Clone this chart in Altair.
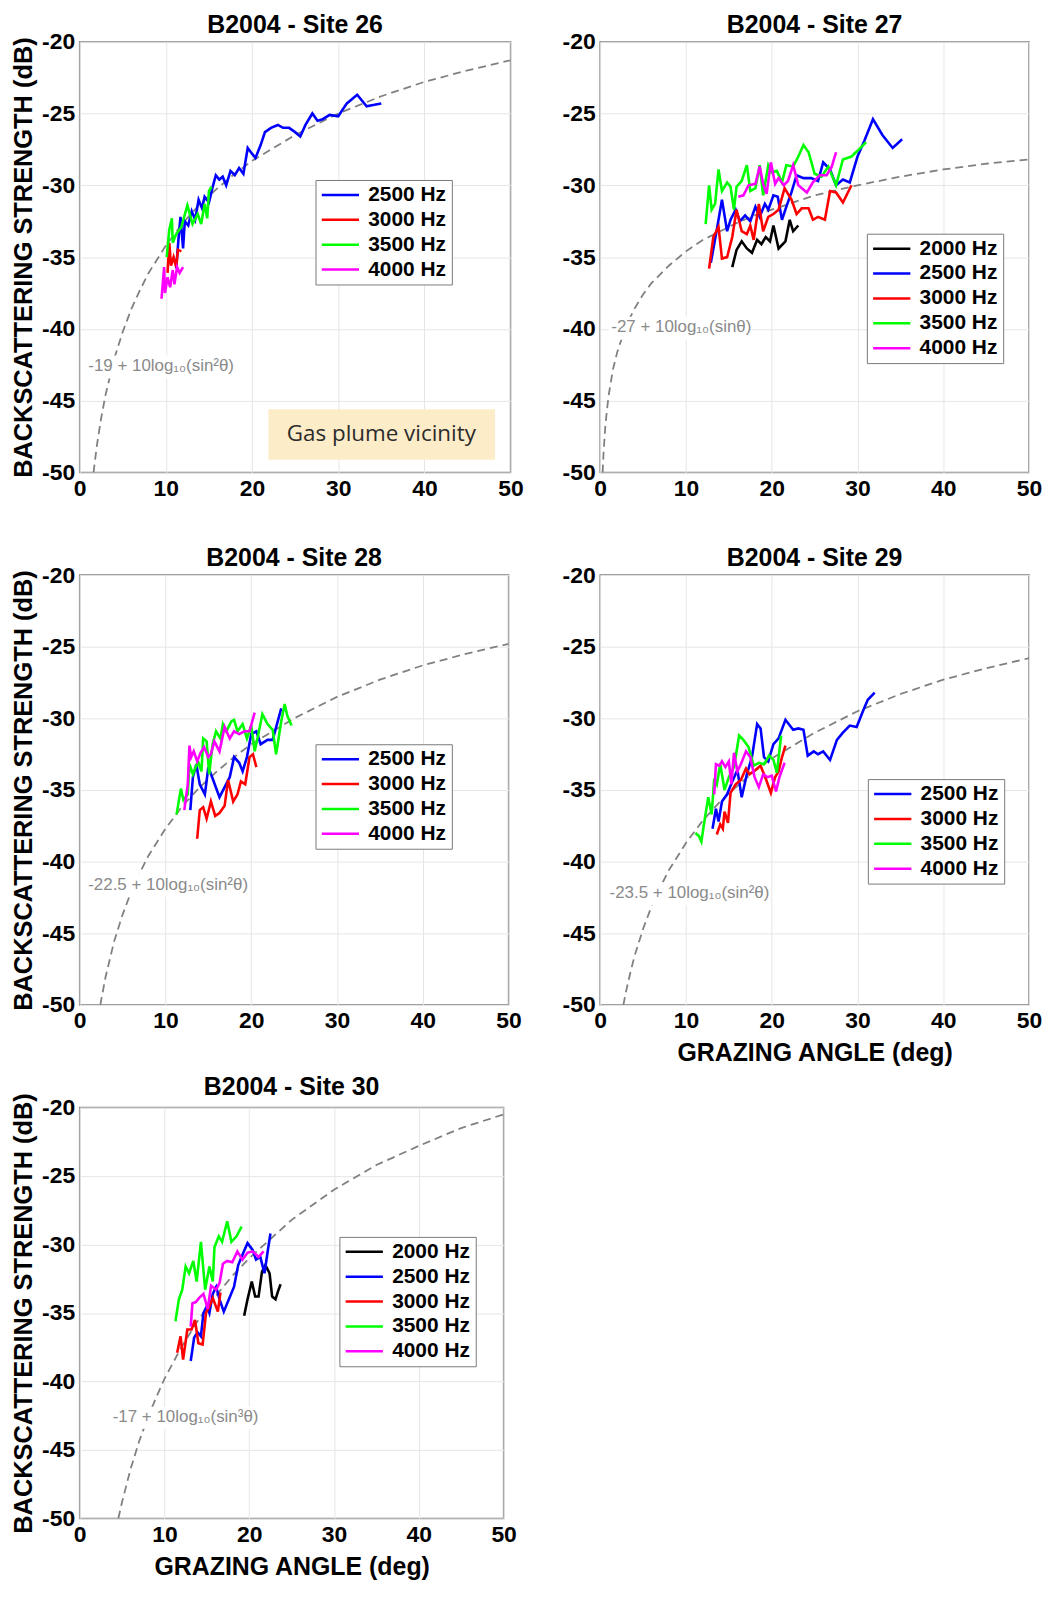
import altair as alt
import pandas as pd

FONT = "Liberation Sans"

# ---------------- data (grazing angle deg, backscattering strength dB) ----------------
FREQS = ["2000 Hz", "2500 Hz", "3000 Hz", "3500 Hz", "4000 Hz"]
FREQ_COLORS = ["#000000", "#0000ff", "#ff0000", "#00ff00", "#ff00ff"]

# Site 26
s26_2500 = [(11.2,-35.8),(11.5,-33.5),(11.7,-32.2),(12.0,-34.4),(12.2,-32.5),(12.6,-32.8),(13.0,-31.8),(13.4,-32.4),(13.8,-31.0),(14.2,-31.6),(14.5,-30.8),(15.0,-31.2),(15.4,-30.2),(15.8,-29.3),(16.2,-29.6),(16.6,-29.4),(17.0,-30.0),(17.5,-29.0),(18.0,-29.3),(18.5,-28.8),(19.0,-29.2),(19.5,-27.4),(20.0,-27.8),(20.4,-28.1),(21.0,-27.2),(21.5,-26.3),(22.2,-26.0),(23.0,-25.8),(23.6,-26.0),(24.3,-26.0),(25.0,-26.3),(25.6,-26.6),(26.2,-25.8),(27.0,-25.0),(27.6,-25.5),(28.2,-25.4),(29.0,-25.1),(30.0,-25.2),(31.0,-24.3),(32.2,-23.7),(33.3,-24.5),(34.2,-24.4),(35.0,-24.3)]
s26_3000 = [(10.2,-36.1),(10.4,-34.0),(10.6,-35.6),(10.9,-35.0),(11.2,-35.7),(11.4,-34.5),(11.8,-34.6)]
s26_3500 = [(10.1,-35.0),(10.4,-33.1),(10.7,-32.3),(10.8,-34.0),(11.2,-33.4),(11.8,-32.9),(12.5,-31.4),(13.1,-32.7),(13.7,-32.0),(14.1,-32.7),(14.5,-31.3),(14.8,-32.3),(15.0,-30.4),(15.3,-30.1)]
s26_4000 = [(9.5,-37.9),(9.8,-35.7),(9.9,-37.5),(10.2,-36.4),(10.5,-37.1),(10.8,-35.9),(11.0,-36.9),(11.3,-35.7),(11.6,-36.1),(12.0,-35.7)]
m26 = [(1.61,-50.0),(2,-48.1),(2.5,-46.2),(3,-44.6),(4,-42.1),(5,-40.2),(6,-38.6),(7,-37.3),(8,-36.1),(10,-34.2),(12,-32.6),(14,-31.3),(16,-30.2),(18,-29.2),(20,-28.3),(25,-26.5),(30,-25.0),(35,-23.8),(40,-22.8),(45,-22.0),(50,-21.3)]

# Site 27
s27_2000 = [(15.4,-35.7),(15.9,-34.5),(16.5,-33.9),(17.1,-34.4),(17.7,-34.7),(18.3,-33.8),(18.8,-34.1),(19.3,-33.6),(19.8,-33.9),(20.2,-32.8),(20.8,-34.4),(21.6,-33.9),(22.1,-32.4),(22.5,-33.2),(23.1,-32.8)]
s27_2500 = [(12.9,-35.4),(13.6,-33.1),(14.2,-31.0),(14.8,-33.2),(15.2,-32.4),(15.8,-31.7),(16.3,-32.5),(16.9,-32.1),(17.5,-32.5),(18.1,-31.5),(18.6,-32.2),(19.2,-31.3),(19.6,-31.7),(20.2,-30.7),(20.7,-30.8),(21.2,-32.4),(21.7,-31.5),(22.3,-30.5),(22.9,-29.3),(23.7,-29.5),(24.6,-29.5),(25.4,-29.7),(26.0,-28.4),(26.8,-28.9),(27.5,-30.0),(28.3,-29.6),(29.1,-29.8),(30.0,-28.0),(30.8,-26.9),(31.8,-25.4),(32.9,-26.5),(34.1,-27.4),(35.2,-26.8)]
s27_3000 = [(12.7,-35.8),(13.2,-33.6),(13.8,-32.9),(14.2,-35.1),(14.8,-35.0),(15.4,-33.6),(15.9,-31.7),(16.5,-33.2),(17.1,-33.4),(17.5,-32.8),(17.9,-33.8),(18.5,-31.3),(19.0,-33.2),(19.6,-32.2),(20.2,-32.0),(20.8,-31.7),(21.5,-30.2),(22.3,-31.0),(22.9,-32.0),(23.5,-31.6),(24.3,-31.6),(24.8,-32.4),(25.4,-32.2),(26.2,-32.4),(26.8,-30.4),(27.5,-30.5),(28.3,-31.2),(29.3,-30.0)]
s27_3500 = [(12.3,-32.7),(12.7,-30.0),(13.0,-31.7),(13.4,-31.3),(13.8,-28.9),(14.2,-30.4),(14.8,-29.8),(15.2,-30.1),(15.6,-31.7),(15.9,-30.1),(16.5,-29.7),(17.1,-28.6),(17.5,-30.4),(18.1,-30.2),(18.6,-28.6),(19.0,-30.7),(19.6,-28.6),(20.0,-29.1),(20.6,-29.0),(21.2,-29.8),(21.7,-28.6),(22.5,-28.7),(23.1,-28.0),(23.7,-27.2),(24.3,-27.7),(25.0,-29.2),(25.8,-29.4),(26.6,-28.7),(27.5,-30.0),(28.3,-28.2),(29.3,-28.0),(30.0,-27.6),(31.0,-27.0)]
s27_4000 = [(16.1,-30.8),(16.7,-30.7),(17.3,-30.0),(18.1,-29.9),(18.6,-28.7),(19.0,-29.9),(19.4,-30.6),(19.9,-28.4),(20.4,-29.9),(20.8,-29.5),(21.4,-30.0),(21.9,-29.7),(22.5,-28.6),(23.1,-30.0),(24.1,-30.5),(24.8,-29.8),(25.6,-29.3),(26.4,-29.3),(27.0,-28.7),(27.5,-27.7)]
m27 = [(0.29,-50.0),(0.4,-48.6),(0.6,-46.8),(0.8,-45.6),(1,-44.6),(1.5,-42.8),(2,-41.6),(3,-39.8),(4,-38.6),(5,-37.6),(6,-36.8),(8,-35.6),(10,-34.6),(12,-33.8),(14,-33.2),(16,-32.6),(18,-32.1),(20,-31.7),(25,-30.7),(30,-30.0),(35,-29.4),(40,-28.9),(45,-28.5),(50,-28.2)]

# Site 28
s28_2500 = [(12.9,-36.4),(13.2,-34.1),(13.6,-33.2),(14.0,-34.6),(14.6,-35.3),(15.0,-33.4),(15.5,-34.2),(16.3,-35.5),(16.9,-34.8),(17.5,-34.1),(18.0,-32.7),(18.6,-33.1),(19.0,-33.7),(19.5,-32.7),(20.0,-31.1),(20.6,-30.9),(21.1,-31.8),(21.9,-31.5),(22.5,-31.5),(23.5,-29.3)]
s28_3000 = [(13.7,-38.4),(14.0,-36.4),(14.4,-36.2),(14.8,-37.0),(15.3,-35.8),(15.8,-36.8),(16.3,-36.6),(16.9,-36.1),(17.3,-34.3),(17.9,-35.8),(18.4,-35.3),(18.8,-34.4),(19.3,-34.6),(19.8,-32.7),(20.2,-32.5),(20.6,-33.4)]
s28_3500 = [(11.3,-36.7),(11.8,-34.9),(12.1,-35.7),(12.6,-35.3),(12.8,-33.2),(13.2,-33.9),(13.8,-33.0),(14.2,-33.7),(14.4,-31.4),(14.8,-31.6),(15.1,-33.9),(15.5,-31.8),(15.9,-30.9),(16.4,-31.4),(16.7,-30.4),(17.1,-30.9),(17.7,-30.2),(18.0,-30.1),(18.4,-30.9),(19.0,-30.4),(19.5,-31.4),(20.0,-30.5),(20.4,-32.3),(20.8,-31.2),(21.3,-29.7),(21.9,-30.4),(22.5,-30.8),(22.9,-32.5),(23.5,-30.2),(23.9,-29.0),(24.2,-29.8),(24.7,-30.5)]
s28_4000 = [(12.2,-36.4),(12.6,-34.6),(12.8,-31.9),(13.0,-32.7),(13.3,-32.3),(13.7,-33.0),(14.1,-32.4),(14.5,-32.0),(15.0,-32.7),(15.3,-32.5),(15.7,-31.6),(16.3,-32.3),(16.9,-30.6),(17.5,-31.4),(18.0,-30.9),(18.6,-31.1),(19.2,-30.9),(19.8,-30.9),(20.4,-29.6)]
m28 = [(2.42,-50.0),(2.5,-49.7),(3,-48.1),(4,-45.6),(5,-43.7),(6,-42.1),(7,-40.8),(8,-39.6),(10,-37.7),(12,-36.1),(14,-34.8),(16,-33.7),(18,-32.7),(20,-31.8),(25,-30.0),(30,-28.5),(35,-27.3),(40,-26.3),(45,-25.5),(50,-24.8)]

# Site 29
s29_2500 = [(13.1,-37.7),(13.5,-36.3),(13.8,-37.2),(14.2,-35.8),(14.8,-35.3),(15.4,-34.4),(16.0,-33.6),(16.5,-35.5),(17.1,-33.9),(17.7,-32.7),(18.3,-30.4),(18.7,-30.7),(19.1,-32.7),(19.6,-33.0),(20.2,-31.8),(20.8,-31.4),(21.6,-30.1),(22.5,-30.8),(23.1,-30.7),(23.7,-30.8),(24.2,-32.6),(24.9,-32.3),(25.4,-32.5),(26.0,-32.3),(26.8,-32.9),(27.6,-31.5),(28.3,-31.0),(29.1,-30.5),(29.9,-30.6),(30.7,-29.4),(31.2,-28.7),(32.0,-28.2)]
s29_3000 = [(13.6,-38.1),(14.0,-37.4),(14.3,-37.7),(14.5,-36.5),(14.9,-37.3),(15.2,-35.2),(15.8,-34.6),(16.4,-34.3),(17.0,-33.5),(17.4,-33.9),(18.1,-33.6),(18.7,-33.3),(19.3,-34.2),(19.9,-35.2),(20.4,-34.1),(20.8,-33.7),(21.2,-32.7),(21.6,-31.9)]
s29_3500 = [(11.1,-38.0),(11.5,-38.2),(11.8,-38.6),(12.1,-37.4),(12.6,-35.5),(13.0,-36.7),(13.3,-34.2),(13.6,-34.6),(14.0,-33.2),(14.5,-35.0),(15.0,-34.1),(15.6,-33.4),(16.2,-31.2),(16.7,-31.5),(17.3,-32.0),(17.9,-33.3),(18.5,-33.1),(19.1,-33.2),(19.7,-32.6),(20.2,-32.9),(20.6,-33.8),(21.1,-31.2)]
s29_4000 = [(13.3,-35.3),(13.5,-33.2),(13.9,-33.3),(14.2,-33.0),(14.6,-33.4),(15.0,-33.0),(15.3,-34.6),(15.6,-32.4),(16.0,-33.7),(16.4,-33.2),(17.0,-32.3),(17.5,-32.7),(18.0,-34.1),(18.5,-34.8),(19.0,-33.9),(19.5,-34.1),(20.0,-34.0),(20.5,-35.1),(20.9,-34.1),(21.5,-33.1)]
m29 = [(2.71,-50.0),(3,-49.1),(3.5,-47.8),(4,-46.6),(5,-44.7),(6,-43.1),(7,-41.8),(8,-40.6),(10,-38.7),(12,-37.1),(14,-35.8),(16,-34.7),(18,-33.7),(20,-32.8),(25,-31.0),(30,-29.5),(35,-28.3),(40,-27.3),(45,-26.5),(50,-25.8)]

# Site 30
s30_2000 = [(19.4,-35.2),(19.8,-34.0),(20.3,-32.7),(20.7,-33.8),(21.1,-33.8),(21.5,-32.0),(21.9,-31.5),(22.4,-32.1),(22.7,-33.8),(23.1,-34.0),(23.4,-33.4),(23.7,-32.9)]
s30_2500 = [(13.1,-38.5),(13.5,-36.8),(13.9,-36.4),(14.3,-36.7),(14.6,-35.0),(15.0,-34.5),(15.3,-35.0),(15.7,-33.6),(16.1,-33.1),(16.5,-34.0),(17.0,-34.9),(17.6,-34.0),(18.2,-33.1),(18.7,-31.5),(19.3,-30.6),(19.8,-29.9),(20.4,-30.4),(20.8,-31.1),(21.3,-30.9),(21.8,-32.1),(22.2,-30.4),(22.5,-29.2)]
s30_3000 = [(11.5,-37.9),(11.9,-36.7),(12.2,-38.4),(12.7,-36.2),(13.2,-36.2),(13.6,-35.5),(14.0,-37.2),(14.5,-37.3),(14.9,-35.0),(15.3,-34.5),(15.7,-33.9),(16.3,-34.9),(16.6,-33.5)]
s30_3500 = [(11.3,-35.6),(11.7,-34.0),(12.1,-33.3),(12.5,-31.6),(12.9,-32.1),(13.4,-31.2),(13.8,-32.7),(14.3,-29.8),(14.8,-33.3),(15.3,-31.6),(15.7,-32.7),(15.9,-30.2),(16.4,-29.4),(16.8,-29.8),(17.4,-28.3),(17.9,-29.8),(18.5,-29.4),(19.1,-28.7)]
s30_4000 = [(13.1,-36.0),(13.3,-34.3),(13.7,-34.2),(14.1,-33.9),(14.6,-33.6),(15.1,-34.7),(15.5,-33.0),(16.1,-33.3),(16.5,-32.8),(16.9,-31.4),(17.4,-31.2),(18.0,-31.3),(18.6,-30.5),(19.2,-31.1),(19.8,-30.6),(20.4,-30.5),(21.1,-30.9),(21.7,-30.5)]
m30 = [(4.56,-50.0),(5,-48.8),(6,-46.4),(7,-44.4),(8,-42.7),(9,-41.2),(10,-39.8),(12,-37.5),(14,-35.5),(16,-33.8),(18,-32.3),(20,-31.0),(25,-28.2),(30,-26.0),(35,-24.2),(40,-22.8),(45,-21.5),(50,-20.5)]

# model labels: (text, angle at left edge, dB, angular width of white backing)
ann26 = ("-19 + 10log\u2081\u2080(sin\u00b2\u03b8)", 1.0, -42.6, 17.0)
ann27 = ("-27 + 10log\u2081\u2080(sin\u03b8)", 1.3, -39.9, 16.2)
ann28 = ("-22.5 + 10log\u2081\u2080(sin\u00b2\u03b8)", 1.0, -41.6, 18.6)
ann29 = ("-23.5 + 10log\u2081\u2080(sin\u00b2\u03b8)", 1.1, -42.2, 18.7)
ann30 = ("-17 + 10log\u2081\u2080(sin\u00b3\u03b8)", 3.9, -42.6, 17.4)

# gas plume note box (angle from, angle to, dB from, dB to)
plume_box = (21.9, 48.2, -45.6, -49.1)
plume_text = ("Gas plume vicinity", 35.0, -47.35)

X_TICKS = [0, 10, 20, 30, 40, 50]
Y_TICKS = [-50, -45, -40, -35, -30, -25, -20]
X_TITLE = "GRAZING ANGLE (deg)"
Y_TITLE = "BACKSCATTERING STRENGTH (dB)"


def to_df(series):
    rows = []
    for freq, pts in series.items():
        for i, (a, b) in enumerate(pts):
            rows.append({"freq": freq, "ang": a, "bs": b, "i": i})
    return pd.DataFrame(rows)


def panel(title, series, model, ann, legend_xy, w, h, ytitle, xtitle, box=False):
    freqs = list(series.keys())
    colors = [FREQ_COLORS[FREQS.index(f)] for f in freqs]
    xs = alt.Scale(domain=[0, 50], nice=False, zero=False)
    ys = alt.Scale(domain=[-50, -20], nice=False, zero=False)
    xaxis = alt.Axis(values=X_TICKS, title=xtitle, labelFlush=False, labelOverlap=False,
                     labelExpr="'' + datum.value", titlePadding=8, titleFontSize=25)
    yaxis = alt.Axis(values=Y_TICKS, title=ytitle, labelFlush=False, labelOverlap=False,
                     labelExpr="'' + datum.value", titlePadding=5, titleFontSize=25.5)
    X = alt.X("ang:Q", scale=xs, axis=xaxis)
    Y = alt.Y("bs:Q", scale=ys, axis=yaxis)

    layers = []
    if box:
        bdf = pd.DataFrame([{"ang": plume_box[0], "ang2": plume_box[1], "bs": plume_box[2], "bs2": plume_box[3]}])
        layers.append(alt.Chart(bdf).mark_rect(color="#fdecc8").encode(x=X, x2="ang2:Q", y=Y, y2="bs2:Q"))
        tdf = pd.DataFrame([{"ang": plume_text[1], "bs": plume_text[2], "t": plume_text[0]}])
        layers.append(alt.Chart(tdf).mark_text(font="Open Sans", fontSize=22.5, color="#2b2b2b",
                                               align="center", baseline="middle").encode(x=X, y=Y, text="t:N"))

    mdf = pd.DataFrame([{"ang": a, "bs": b, "i": i} for i, (a, b) in enumerate(model)])
    layers.append(alt.Chart(mdf).mark_line(color="#808080", strokeDash=[8, 5], strokeWidth=1.8, clip=True)
                  .encode(x=X, y=Y, order="i:Q"))

    # white backing behind the model label, then the label
    wdf = pd.DataFrame([{"ang": ann[1] - 0.3, "ang2": ann[1] + ann[3], "bs": ann[2] + 0.75, "bs2": ann[2] - 0.85}])
    layers.append(alt.Chart(wdf).mark_rect(color="white").encode(x=X, x2="ang2:Q", y=Y, y2="bs2:Q"))
    adf = pd.DataFrame([{"ang": ann[1], "bs": ann[2], "t": ann[0]}])
    layers.append(alt.Chart(adf).mark_text(font=FONT, fontSize=17, color="#8a8a8a",
                                           align="left", baseline="middle").encode(x=X, y=Y, text="t:N"))

    df = to_df(series)
    legend = alt.Legend(title=None, orient="none", legendX=legend_xy[0], legendY=legend_xy[1],
                        symbolType="stroke", symbolSize=1400, symbolStrokeWidth=2.5,
                        clipHeight=20, rowPadding=4, padding=5, labelOffset=8,
                        labelFont=FONT, labelFontSize=21, labelFontWeight="bold", labelColor="black",
                        strokeColor="#7a7a7a", fillColor="white")
    layers.append(alt.Chart(df).mark_line(strokeWidth=2.6, clip=True).encode(
        x=X, y=Y, order="i:Q",
        color=alt.Color("freq:N", scale=alt.Scale(domain=freqs, range=colors), legend=legend)))

    return alt.layer(*layers).properties(width=w, height=h, title=alt.TitleParams(title, frame="group"))


p26 = panel("B2004 - Site 26", {"2500 Hz": s26_2500, "3000 Hz": s26_3000, "3500 Hz": s26_3500, "4000 Hz": s26_4000},
            m26, ann26, (237, 139), 433, 433, Y_TITLE, None, box=True)
p27 = panel("B2004 - Site 27", {"2000 Hz": s27_2000, "2500 Hz": s27_2500, "3000 Hz": s27_3000, "3500 Hz": s27_3500, "4000 Hz": s27_4000},
            m27, ann27, (268, 193), 431, 433, None, None)
p28 = panel("B2004 - Site 28", {"2500 Hz": s28_2500, "3000 Hz": s28_3000, "3500 Hz": s28_3500, "4000 Hz": s28_4000},
            m28, ann28, (237, 170), 431, 432, Y_TITLE, None)
p29 = panel("B2004 - Site 29", {"2500 Hz": s29_2500, "3000 Hz": s29_3000, "3500 Hz": s29_3500, "4000 Hz": s29_4000},
            m29, ann29, (269, 205), 431, 432, None, X_TITLE)
p30 = panel("B2004 - Site 30", {"2000 Hz": s30_2000, "2500 Hz": s30_2500, "3000 Hz": s30_3000, "3500 Hz": s30_3500, "4000 Hz": s30_4000},
            m30, ann30, (261, 130), 426, 413, Y_TITLE, X_TITLE)

chart = (
    alt.concat(p26, p27, p28, p29, p30, columns=2, spacing={"row": 103, "column": 90}, bounds="flush")
    .resolve_scale(color="independent", x="independent", y="independent")
    .resolve_legend(color="independent")
    .properties(padding={"left": 3, "top": 0, "right": 2, "bottom": 2}, background="white")
    .configure_view(stroke="#808080", strokeWidth=1.5)
    .configure_axis(labelFont=FONT, labelFontSize=23, labelFontWeight="bold", labelColor="black",
                    titleFont=FONT, titleFontWeight="bold", titleColor="black",
                    gridColor="#e6e6e6", gridWidth=1, domain=False, ticks=False,
                    labelPadding=5)
    .configure_title(font=FONT, fontSize=25, fontWeight="bold", color="black", offset=-7, anchor="middle")
)

chart.save("out.html", embed_options={"renderer": "svg", "actions": False})
